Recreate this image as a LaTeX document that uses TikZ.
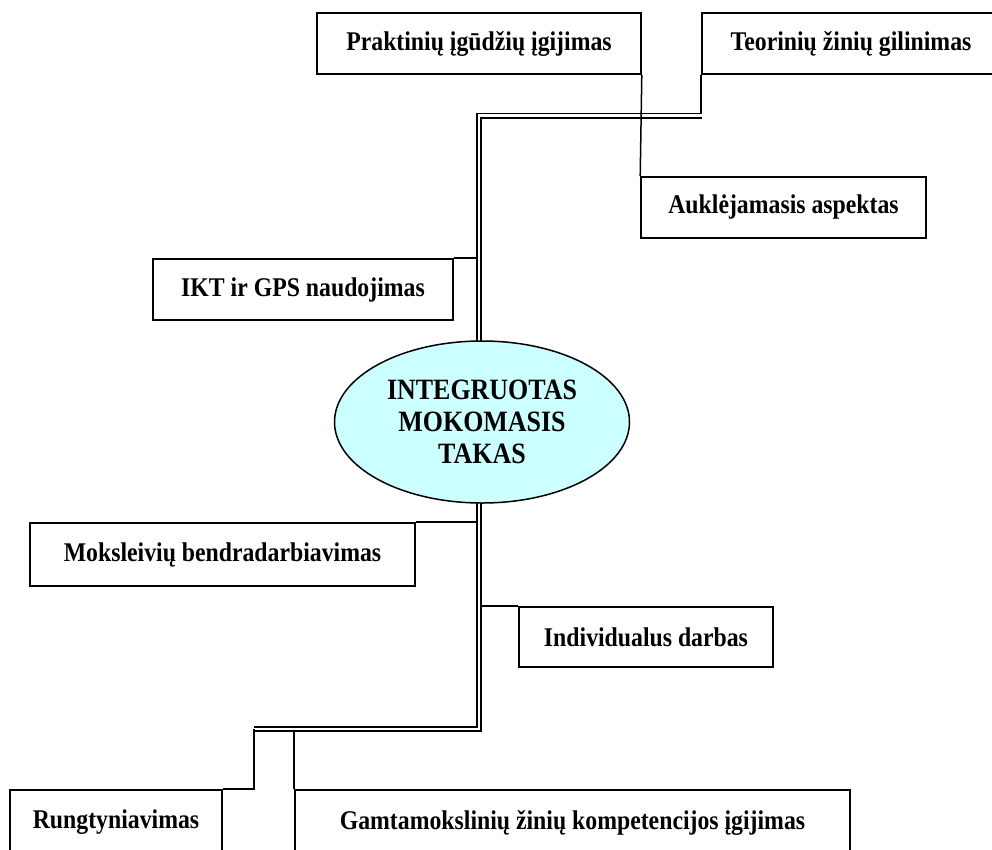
\documentclass[tikz,border=0pt]{standalone}
\usepackage{fontspec}
\setmainfont{Liberation Serif}[FakeStretch=0.88]
\usetikzlibrary{shapes.geometric}
\definecolor{elfill}{RGB}{204,255,255}
\begin{document}
\begin{tikzpicture}[x=1pt,y=-1pt,
  box/.style={draw, line width=1.6pt, inner sep=0pt, font=\bfseries\fontsize{27}{32}\selectfont},
  dbl/.style={draw, double, double distance=2.8pt, line width=1.6pt},
  conn/.style={draw, line width=1.5pt}]
\useasboundingbox (0,0) rectangle (992,849);
\clip (0,0) rectangle (992,849);
\fill[white] (0,0) rectangle (992,849);

\node[box, minimum width=324pt, minimum height=61pt] (prak) at (479,43.5) {Praktinių įgūdžių įgijimas};
\node[box, minimum width=298pt, minimum height=61pt] (teor) at (851,43.5) {Teorinių žinių gilinimas};
\node[box, minimum width=285pt, minimum height=61pt] (aukl) at (783.5,207.5) {Auklėjamasis aspektas};
\node[box, minimum width=300pt, minimum height=61pt] (ikt) at (303,289.5) {IKT ir GPS naudojimas};
\node[box, minimum width=385pt, minimum height=63pt] (moks) at (222.5,554.5) {Moksleivių bendradarbiavimas};
\node[box, minimum width=254pt, minimum height=60pt] (indiv) at (646,637) {Individualus darbas};
\node[box, minimum width=212pt, minimum height=65pt] (rung) at (116,822.5) {Rungtyniavimas};
\node[box, minimum width=555pt, minimum height=65pt] (gamt) at (572.5,822.5) {Gamtamokslinių žinių kompetencijos įgijimas};

\coordinate (tcorner) at (479,115.5);
\coordinate (tright) at (702,115.5);
\coordinate (bcorner) at (479,729);
\coordinate (bleft) at (254,729);
\coordinate (spineL) at (477,0);
\coordinate (spineR) at (481,0);
\coordinate (topstroke) at (0,113.5);
\coordinate (botstroke) at (0,731);
\coordinate (elltop) at (479,341);
\coordinate (ellbot) at (479,503);

\draw[dbl] (tright) -- (tcorner) -- (elltop);
\draw[dbl] (ellbot) -- (bcorner) -- (bleft);

\node[draw, line width=1.5pt, fill=elfill, ellipse, minimum width=295pt, minimum height=162pt,
  align=center, inner sep=0pt, font=\bfseries\fontsize{29.5}{32}\selectfont] (ell) at (482,422)
  {INTEGRUOTAS\\MOKOMASIS\\TAKAS};

\draw[conn] (teor.south west) -- (teor.south west |- topstroke);
\draw[conn] (prak.south east) -- (aukl.north west);
\draw[conn] (ikt.north east) -- (ikt.north east -| spineL);
\draw[conn] (moks.north east) -- (moks.north east -| spineL);
\draw[conn] (indiv.north west) -- (indiv.north west -| spineR);
\draw[conn] (bleft) -- (bleft |- rung.north) -- (rung.north east);
\draw[conn] (gamt.north west) -- (gamt.north west |- botstroke);
\end{tikzpicture}
\end{document}
